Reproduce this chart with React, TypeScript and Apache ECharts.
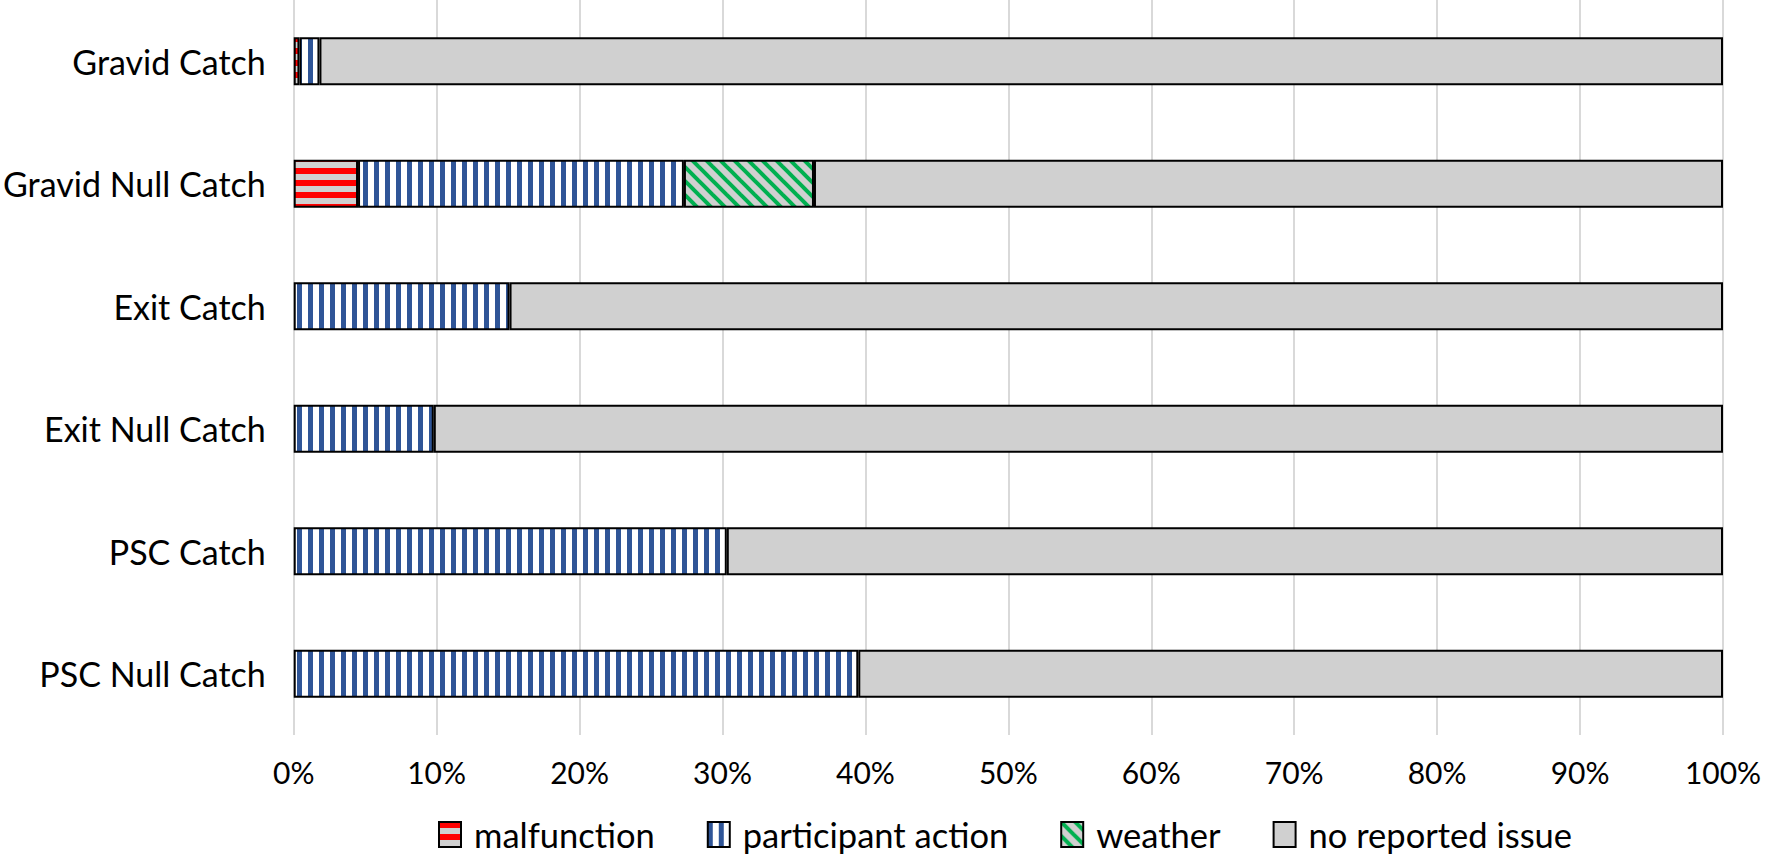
import React, { useEffect, useRef } from "react";
import * as echarts from "echarts";

const categories = [
  "Gravid Catch",
  "Gravid Null Catch",
  "Exit Catch",
  "Exit Null Catch",
  "PSC Catch",
  "PSC Null Catch",
];
const malfunction = [0.4, 4.5, null, null, null, null];
const participantAction = [1.4, 22.8, 15.1, 9.8, 30.3, 39.5];
const weather = [null, 9.1, null, null, null, null];
const noReportedIssue = [98.2, 63.6, 84.9, 90.2, 69.7, 60.5];
const xTicks = [0, 10, 20, 30, 40, 50, 60, 70, 80, 90, 100];

const FONT = "Lato";

function makePattern(w: number, h: number, draw: (ctx: CanvasRenderingContext2D) => void) {
  const c = document.createElement("canvas");
  c.width = w;
  c.height = h;
  const ctx = c.getContext("2d")!;
  draw(ctx);
  return { image: c.toDataURL(), repeat: "repeat", imageWidth: w, imageHeight: h } as any;
}

export default function App() {
  const ref = useRef<HTMLDivElement>(null);
  useEffect(() => {
    if (!ref.current) return;
    const chart = echarts.init(ref.current, null, { renderer: "svg" });

    const redPat = makePattern(12, 12, (ctx) => {
      ctx.fillStyle = "#d0d0d0";
      ctx.fillRect(0, 0, 12, 12);
      ctx.fillStyle = "#ff0000";
      ctx.fillRect(0, 0, 12, 6);
    });
    const bluePat = makePattern(11, 11, (ctx) => {
      ctx.fillStyle = "#ffffff";
      ctx.fillRect(0, 0, 11, 11);
      ctx.fillStyle = "#2f5597";
      ctx.fillRect(0, 0, 5, 11);
    });
    const greenPat = makePattern(14, 14, (ctx) => {
      ctx.fillStyle = "#d0d0d0";
      ctx.fillRect(0, 0, 14, 14);
      ctx.strokeStyle = "#00b050";
      ctx.lineWidth = 4;
      for (const o of [-14, 0, 14]) {
        ctx.beginPath();
        ctx.moveTo(o - 2, -2);
        ctx.lineTo(o + 16, 16);
        ctx.stroke();
      }
    });

    const mk = (name: string, data: (number | null)[], color: any) => ({
      name,
      type: "bar",
      stack: "total",
      barWidth: 48,
      data,
      itemStyle: { color, borderColor: "#000000", borderWidth: 2 },
      emphasis: { disabled: true },
    });

    chart.setOption({
      animation: false,
      textStyle: { fontFamily: FONT },
      grid: { left: 290, right: 46, top: 0, bottom: 122, containLabel: false },
      legend: {
        top: 812,
        left: 433,
        icon: "rect",
        itemWidth: 22,
        itemHeight: 25,
        itemGap: 52,
        textStyle: {
          fontFamily: FONT,
          fontSize: 34.5,
          lineHeight: 34,
          color: "#000",
          padding: [0, 0, 0, 8],
        },
        data: ["malfunction", "participant action", "weather", "no reported issue"],
      },
      xAxis: {
        type: "value",
        min: 0,
        max: 100,
        interval: 10,
        axisLine: { show: false },
        axisTick: { show: false },
        splitLine: { show: true, lineStyle: { color: "#d9d9d9", width: 2 } },
        axisLabel: {
          margin: 22,
          fontFamily: FONT,
          fontSize: 30,
          color: "#000",
          formatter: (v: number) => (xTicks.includes(v) ? v + "%" : ""),
        },
      },
      yAxis: {
        type: "category",
        inverse: true,
        data: categories,
        axisLine: { show: false },
        axisTick: { show: false },
        axisLabel: { margin: 28, fontFamily: FONT, fontSize: 34, color: "#000" },
      },
      series: [
        mk("malfunction", malfunction, redPat),
        mk("participant action", participantAction, bluePat),
        mk("weather", weather, greenPat),
        mk("no reported issue", noReportedIssue, "#d0d0d0"),
      ],
    });
    return () => chart.dispose();
  }, []);
  return (
    <div
      ref={ref}
      style={{ position: "absolute", left: 0, top: 0, width: 1769, height: 857 }}
    />
  );
}
